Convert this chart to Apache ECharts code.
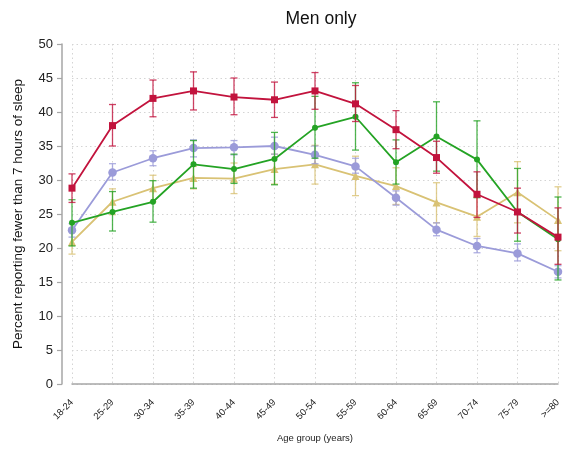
<!DOCTYPE html>
<html>
<head>
<meta charset="utf-8">
<script src="https://cdn.jsdelivr.net/npm/echarts@6/dist/echarts.min.js"></script>
<style>
  html, body { margin: 0; padding: 0; background: #fff; }
  #chart { width: 567px; height: 451px; }
</style>
</head>
<body>
<div id="chart"></div>
<script>
// Age groups along the x axis
const ageGroups = ['18-24','25-29','30-34','35-39','40-44','45-49','50-54','55-59','60-64','65-69','70-74','75-79','>=80'];
const yTicks = [0, 5, 10, 15, 20, 25, 30, 35, 40, 45, 50];

// Group 1 (red squares): estimate, lower and upper bounds
const redMean = [28.8, 38.0, 42.0, 43.1, 42.2, 41.8, 43.1, 41.2, 37.4, 33.3, 27.9, 25.3, 21.6];
const redLow  = [26.7, 35.0, 39.3, 40.3, 39.6, 39.2, 40.4, 38.6, 34.6, 31.0, 24.5, 22.2, 17.6];
const redHigh = [30.9, 41.1, 44.7, 45.9, 45.0, 44.4, 45.8, 43.9, 40.2, 35.7, 31.2, 28.8, 25.9];

// Group 2 (lavender)
const purpleMean = [22.6, 31.1, 33.2, 34.7, 34.8, 35.0, 33.7, 32.0, 27.4, 22.7, 20.3, 19.2, 16.5];
const purpleLow  = [21.6, 30.0, 32.1, 33.4, 33.7, 33.8, 32.4, 31.0, 26.3, 21.8, 19.3, 18.1, 15.6];
const purpleHigh = [23.6, 32.4, 34.3, 35.9, 35.8, 36.3, 35.0, 33.2, 28.4, 23.7, 21.4, 20.6, 17.4];

// Group 3 (green)
const greenMean = [23.7, 25.3, 26.8, 32.3, 31.6, 33.1, 37.7, 39.3, 32.6, 36.4, 33.0, 25.3, 21.3];
const greenLow  = [20.3, 22.5, 23.8, 28.8, 29.5, 29.3, 33.2, 34.4, 29.4, 31.3, 27.4, 21.0, 15.3];
const greenHigh = [27.1, 28.3, 29.9, 35.8, 33.8, 37.0, 42.3, 44.3, 35.9, 41.5, 38.7, 31.7, 27.5];

// Group 4 (khaki triangles)
const yellowMean = [20.9, 26.8, 28.8, 30.3, 30.2, 31.6, 32.3, 30.6, 29.1, 26.7, 24.6, 28.2, 24.1];
const yellowLow  = [19.1, 24.9, 26.8, 28.7, 28.0, 29.4, 29.4, 27.7, 26.4, 23.7, 21.7, 23.7, 19.6];
const yellowHigh = [22.7, 28.7, 30.7, 32.0, 32.5, 33.8, 35.1, 33.5, 31.8, 29.6, 27.5, 32.7, 29.0];

const groups = [
  { mean: yellowMean, low: yellowLow, high: yellowHigh, color: '#d9c274', symbol: 'triangle', size: 8 },
  { mean: purpleMean, low: purpleLow, high: purpleHigh, color: '#9b9bd9', symbol: 'circle', size: 8.5 },
  { mean: greenMean, low: greenLow, high: greenHigh, color: '#24a324', symbol: 'circle', size: 6 },
  { mean: redMean, low: redLow, high: redHigh, color: '#c2133d', symbol: 'rect', size: 7 }
];

function errorBarSeries(g, z) {
  const data = g.low.map((lo, i) => [i, lo, g.high[i]]);
  return {
    type: 'custom',
    z: z,
    silent: true,
    data: data,
    encode: { x: 0, y: [1, 2] },
    renderItem: function (params, api) {
      const x = api.value(0);
      const lo = api.coord([x, api.value(1)]);
      const hi = api.coord([x, api.value(2)]);
      const half = 3.5;
      const style = { stroke: g.color, lineWidth: 1.3, opacity: 0.8 };
      return {
        type: 'group',
        children: [
          { type: 'line', shape: { x1: lo[0], y1: lo[1], x2: hi[0], y2: hi[1] }, style: style },
          { type: 'line', shape: { x1: lo[0] - half, y1: lo[1], x2: lo[0] + half, y2: lo[1] }, style: style },
          { type: 'line', shape: { x1: hi[0] - half, y1: hi[1], x2: hi[0] + half, y2: hi[1] }, style: style }
        ]
      };
    }
  };
}

function lineSeries(g, z) {
  return {
    type: 'line',
    z: z,
    data: g.mean,
    symbol: g.symbol,
    symbolSize: g.size,
    lineStyle: { color: g.color, width: 1.8 },
    itemStyle: { color: g.color },
    emphasis: { disabled: true },
    animation: false
  };
}

const series = [];
groups.forEach((g, k) => {
  series.push(errorBarSeries(g, 2 + k * 2));
  series.push(lineSeries(g, 3 + k * 2));
});

const chart = echarts.init(document.getElementById('chart'), null, { renderer: 'canvas' });
const axisGrey = '#a6a6a6';
const gridDots = { show: true, lineStyle: { color: '#d4d4d4', type: [1.5, 3], width: 1 } };
const font = 'Liberation Sans, Arial, Helvetica, sans-serif';

chart.setOption({
  animation: false,
  textStyle: { fontFamily: font },
  title: {
    text: 'Men only',
    left: 316,
    top: 5,
    textAlign: 'center',
    textStyle: { fontFamily: font, fontSize: 17.5, fontWeight: 'normal', color: '#111' }
  },
  grid: { left: 72, right: 9, top: 44, bottom: 67 },
  xAxis: {
    type: 'category',
    data: ageGroups,
    boundaryGap: false,
    offset: 11,
    name: 'Age group (years)',
    nameLocation: 'middle',
    nameGap: 38,
    nameTextStyle: { fontFamily: font, fontSize: 9.5, color: '#222' },
    axisLine: { show: true, lineStyle: { color: axisGrey, width: 1.5 } },
    axisTick: { show: false },
    axisLabel: { rotate: 45, fontSize: 9.5, color: '#222', margin: 6, interval: 0 },
    splitLine: gridDots
  },
  yAxis: {
    type: 'value',
    min: yTicks[0],
    max: yTicks[yTicks.length - 1],
    interval: 5,
    offset: 10,
    name: 'Percent reporting fewer than 7 hours of sleep',
    nameLocation: 'middle',
    nameGap: 37,
    nameTextStyle: { fontFamily: font, fontSize: 13.5, color: '#111' },
    axisLine: { show: true, lineStyle: { color: axisGrey, width: 1.5 } },
    axisTick: { show: true, length: 5, lineStyle: { color: axisGrey, width: 1.2 } },
    axisLabel: { fontSize: 13, color: '#222', margin: 9 },
    splitLine: gridDots
  },
  series: series
});
</script>
</body>
</html>
